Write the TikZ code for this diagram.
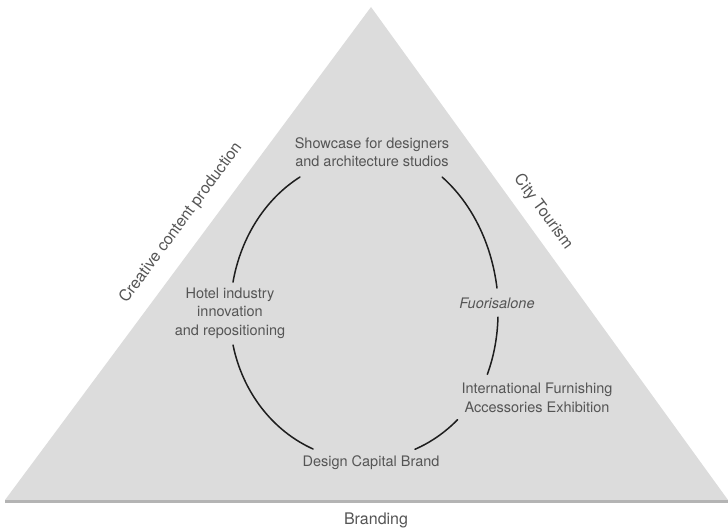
\documentclass[tikz,border=0pt]{standalone}
\usepackage{fontspec}
\setmainfont{TeX Gyre Heros}
\begin{document}
\definecolor{facefill}{HTML}{DCDCDC}
\definecolor{basegray}{HTML}{B4B4B4}
\definecolor{labelgray}{HTML}{555555}
\definecolor{ringline}{HTML}{1E1E1E}
\begin{tikzpicture}[x=1pt,y=1pt,
  lbl/.style={text=labelgray,font=\fontsize{14.5}{18.5}\selectfont,align=center,inner sep=0pt},
  edgelbl/.style={text=labelgray,font=\fontsize{16}{19}\selectfont,inner sep=0pt},
  ring/.style={draw=ringline,line width=1.5pt,line cap=round}]
\useasboundingbox (0,0) rectangle (728,-532);
% the triangle and its shaded base
\coordinate (tl) at (5,-500);
\coordinate (tr) at (728,-500);
\coordinate (tt) at (371,-7);
\fill[facefill] (tl) -- (tt) -- (tr) -- cycle;
\draw[draw=basegray,line width=2.5pt] ([yshift=-1.5pt]tl) -- ([yshift=-1.5pt]tr);
% side labels
\node[edgelbl,rotate=53.6] (create) at (181,-223) {Creative content production};
\node[edgelbl,rotate=-53.9] (tour) at (543,-212) {City Tourism};
\node[edgelbl] (brand) at (376,-520) {Branding};
% labels on the ring
\node[lbl] (show) at (372,-152) {Showcase for designers\\and architecture studios};
\node[lbl] (hotel) at (230,-313) {Hotel industry\\innovation\\and repositioning};
\node[lbl,font=\fontsize{14.5}{18.5}\selectfont\itshape] (fuori) at (497,-303) {Fuorisalone};
\node[lbl] (intl) at (537,-398) {International Furnishing\\Accessories Exhibition};
\node[lbl] (dcb) at (371,-463) {Design Capital Brand};
% ring segments between the labels
\coordinate (c) at (364,-313);
\draw[ring] (c) ++(118.6:133.7 and 154.9) arc[start angle=118.6,end angle=168.5,x radius=133.7,y radius=154.9];
\draw[ring] (c) ++(192.6:134.2 and 147) arc[start angle=192.6,end angle=247.7,x radius=134.2,y radius=147];
\draw[ring] (c) ++(292:136 and 147) arc[start angle=292,end angle=313.5,x radius=136,y radius=147];
\draw[ring] (c) ++(358.5:134 and 157) arc[start angle=358.5,end angle=337,x radius=134,y radius=157];
\draw[ring] (c) ++(54.5:134.5 and 167) arc[start angle=54.5,end angle=8.6,x radius=134.5,y radius=167];
\end{tikzpicture}
\end{document}
